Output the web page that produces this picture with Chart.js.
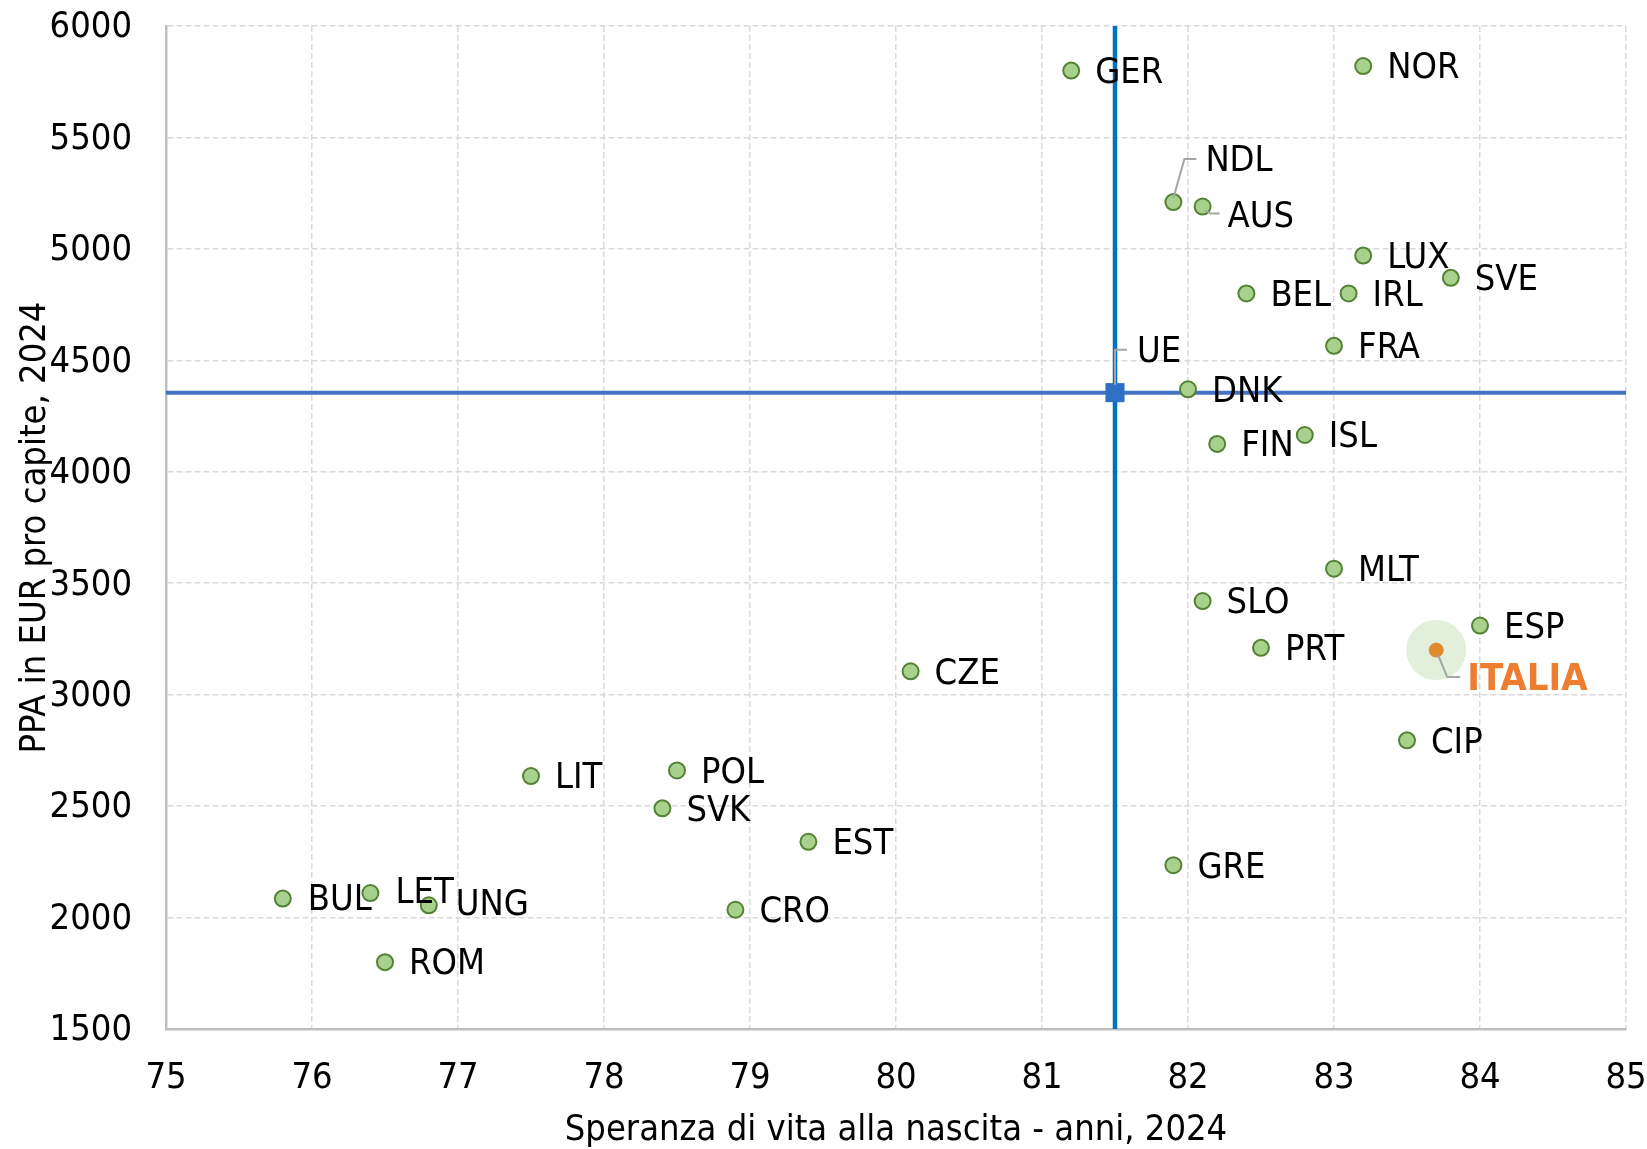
<!DOCTYPE html>
<html><head><meta charset="utf-8">
<script src="https://cdn.jsdelivr.net/npm/chart.js@4"></script>
<style>html,body{margin:0;padding:0;background:#fff}#wrap{width:1647px;height:1149px;position:relative}</style>
</head><body><div id="wrap"><canvas id="c" width="1647" height="1149"></canvas></div>
<script>
// ---- DATA ----
const countries      = ['GER','NOR','NDL','AUS','LUX','SVE','BEL','IRL','FRA','DNK','FIN','ISL','MLT','SLO','ESP','PRT','CZE','CIP','LIT','POL','SVK','EST','GRE','BUL','LET','UNG','CRO','ROM'];
const lifeExpectancy = [81.2, 83.2, 81.9, 82.1, 83.2, 83.8, 82.4, 83.1, 83.0, 82.0, 82.2, 82.8, 83.0, 82.1, 84.0, 82.5, 80.1, 83.5, 77.5, 78.5, 78.4, 79.4, 81.9, 75.8, 76.4, 76.8, 78.9, 76.5];
const pppPerCapita   = [5800, 5820, 5210, 5190, 4970, 4870, 4800, 4800, 4565, 4370, 4125, 4165, 3565, 3420, 3310, 3210, 3105, 2795, 2635, 2660, 2490, 2340, 2235, 2085, 2110, 2055, 2035, 1800];
const italyLabel = 'ITALIA';
const italyLife  = 83.7;
const italyPPP   = 3200;
const euLabel = 'UE';
const euLife  = 81.5;
const euPPP   = 4355;
const xTicks = [75,76,77,78,79,80,81,82,83,84,85];
const yTicks = [1500,2000,2500,3000,3500,4000,4500,5000,5500,6000];
const xTitle = 'Speranza di vita alla nascita - anni, 2024';
const yTitle = 'PPA in EUR pro capite, 2024';

// ---- STYLE ----
const FONT = '"Liberation Sans Narrow","Arial Narrow","DejaVu Sans Condensed",sans-serif';
const LABEL_DEFAULT = {dx: 24, dy: 3};
const LABEL_OFFSETS = {
  NDL: {dx: 32, dy: -40, leader: [[0,-4],[11,-43],[23,-43]]},
  AUS: {dx: 25, dy: 11, leader: [[3,4],[8,7],[17,7]]},
  UNG: {dx: 27, dy: 0},
  LET: {dx: 25, dy: 1},
  BUL: {dx: 25, dy: 2}
};
const EU_LABEL = {dx: 22, dy: -40, leader: [[0,-8],[0,-43],[12,-43]]};
const IT_LABEL = {dx: 31, dy: 30, leader: [[2,5],[11,27],[24,27]]};

const pts = countries.map((c,i)=>({x: lifeExpectancy[i], y: pppPerCapita[i]}));

const labelPlugin = {
  id: 'pointLabels',
  afterDatasetsDraw(chart) {
    const {ctx, scales: {x, y}} = chart;
    ctx.save();
    ctx.textBaseline = 'middle';
    ctx.textAlign = 'left';
    const drawOne = (name, vx, vy, o, font, color) => {
      const px = x.getPixelForValue(vx), py = y.getPixelForValue(vy);
      if (o.leader) {
        ctx.strokeStyle = '#a6a6a6';
        ctx.lineWidth = 2;
        ctx.beginPath();
        o.leader.forEach((p, k) => { k ? ctx.lineTo(px+p[0], py+p[1]) : ctx.moveTo(px+p[0], py+p[1]); });
        ctx.stroke();
      }
      ctx.font = font;
      ctx.fillStyle = color;
      ctx.fillText(name, px + o.dx, py + o.dy);
    };
    countries.forEach((c, i) => {
      const o = Object.assign({}, LABEL_DEFAULT, LABEL_OFFSETS[c] || {});
      drawOne(c, lifeExpectancy[i], pppPerCapita[i], o, `36px ${FONT}`, '#000');
    });
    drawOne(euLabel, euLife, euPPP, EU_LABEL, `36px ${FONT}`, '#000');
    drawOne(italyLabel, italyLife, italyPPP, IT_LABEL, `bold 38px ${FONT}`, '#ED7D31');
    ctx.restore();
  }
};

new Chart(document.getElementById('c'), {
  type: 'scatter',
  data: {
    datasets: [
      { label: 'Paesi', data: pts, order: 0, pointRadius: 8, pointHoverRadius: 8,
        backgroundColor: '#A9D18E', borderColor: '#548235', borderWidth: 2 },
      { label: italyLabel, data: [{x: italyLife, y: italyPPP}], order: 0, pointRadius: 7,
        backgroundColor: '#E08A2C', borderColor: '#E08A2C', borderWidth: 1 },
      { label: 'highlight', data: [{x: italyLife, y: italyPPP}], order: 5, pointRadius: 30,
        backgroundColor: '#E2EFDA', borderColor: '#E2EFDA', borderWidth: 0 },
      { label: euLabel, data: [{x: euLife, y: euPPP}], order: 1, pointStyle: 'rect', pointRadius: 13.5,
        backgroundColor: '#2F6FC6', borderColor: '#2F6FC6', borderWidth: 0 },
      { label: 'vline', data: [{x: euLife, y: yTicks[0]}, {x: euLife, y: yTicks[yTicks.length-1]}], order: 3,
        showLine: true, pointRadius: 0, borderColor: '#0070C0', borderWidth: 4.5 },
      { label: 'hline', data: [{x: xTicks[0], y: euPPP}, {x: xTicks[xTicks.length-1], y: euPPP}], order: 3,
        showLine: true, pointRadius: 0, borderColor: '#4472C4', borderWidth: 4 }
    ]
  },
  options: {
    responsive: false,
    animation: false,
    devicePixelRatio: 1,
    layout: {autoPadding: false, padding: {top: 26, right: 21, left: 0, bottom: 0}},
    plugins: {legend: {display: false}, tooltip: {enabled: false}},
    scales: {
      x: {
        type: 'linear', min: xTicks[0], max: xTicks[xTicks.length-1],
        afterBuildTicks: s => { s.ticks = xTicks.map(v => ({value: v})); },
        afterFit: s => { s.height = 120; s.paddingLeft = 0; s.paddingRight = 0; },
        grid: {color: '#D9D9D9', lineWidth: 1.5, drawTicks: false},
        border: {display: true, color: '#BFBFBF', width: 2.5, dash: [6, 3]},
        ticks: {color: '#000', font: {family: FONT, size: 36}, padding: 28, maxRotation: 0, callback: v => String(v)},
        title: {display: true, text: xTitle, color: '#000', font: {family: FONT, size: 36}, padding: {top: 0, bottom: -3}}
      },
      y: {
        type: 'linear', min: yTicks[0], max: yTicks[yTicks.length-1],
        afterBuildTicks: s => { s.ticks = yTicks.map(v => ({value: v})); },
        afterFit: s => { s.width = 166; s.paddingTop = 0; s.paddingBottom = 0; },
        grid: {color: '#D9D9D9', lineWidth: 1.5, drawTicks: false},
        border: {display: true, color: '#BFBFBF', width: 2.5, dash: [6, 3]},
        ticks: {color: '#000', font: {family: FONT, size: 36}, padding: 34, labelOffset: 2, callback: v => String(v)},
        title: {display: true, text: yTitle, color: '#000', font: {family: FONT, size: 36}, padding: {top: 14, bottom: 0}}
      }
    }
  },
  plugins: [labelPlugin]
});
</script>
</body></html>
